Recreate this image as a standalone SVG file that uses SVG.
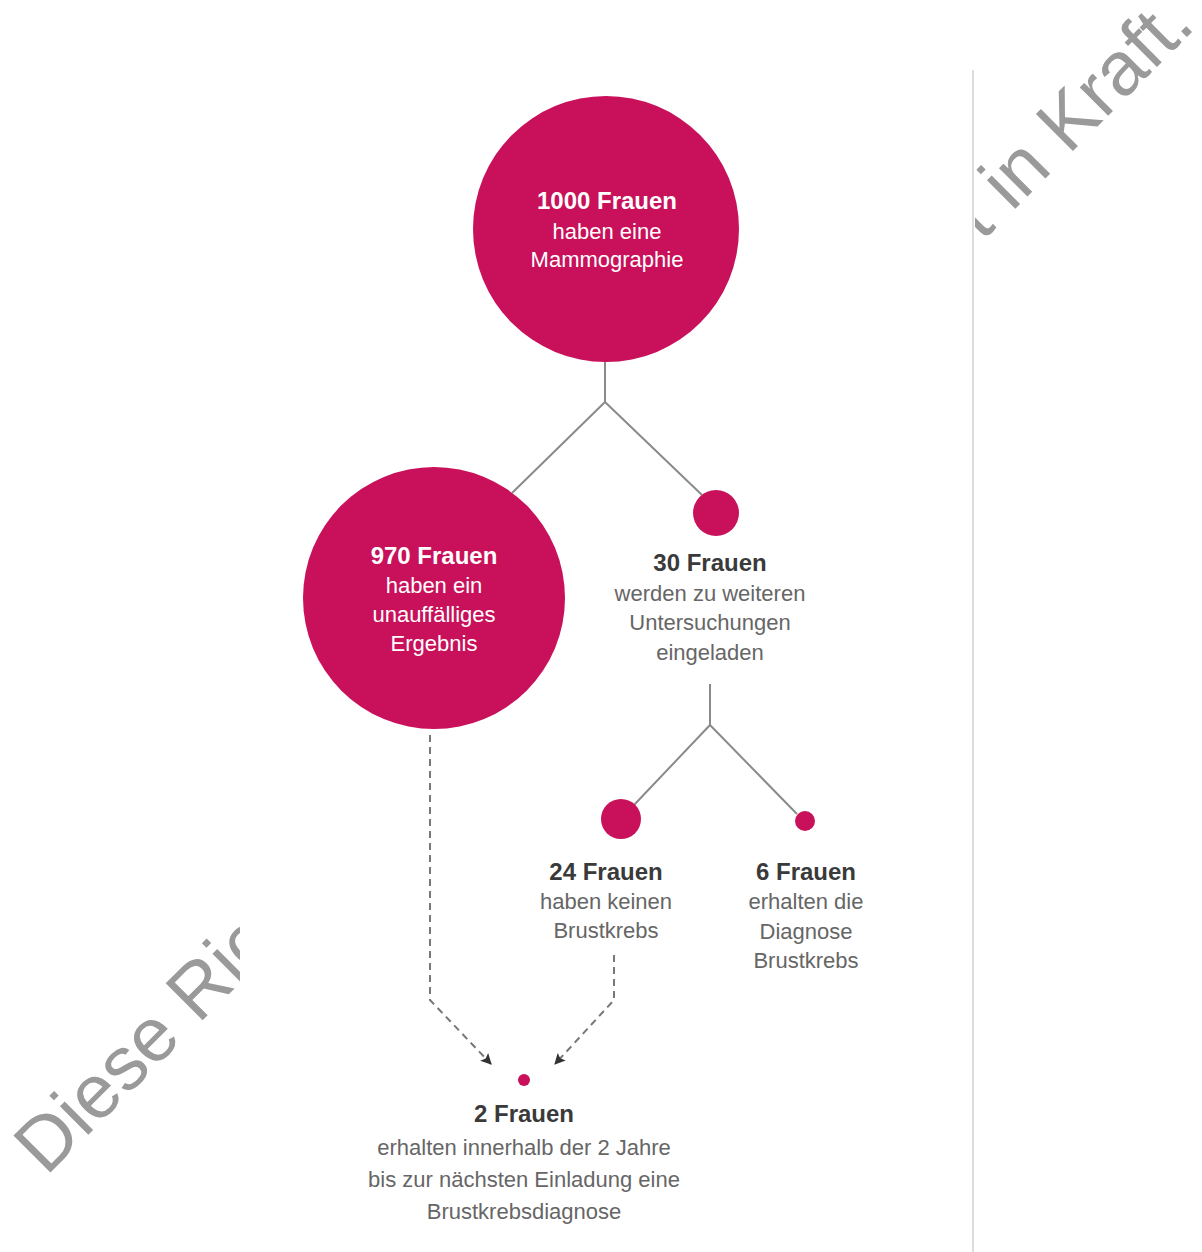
<svg xmlns="http://www.w3.org/2000/svg" width="1202" height="1252" viewBox="0 0 1202 1252">
<style>
.wm{font-family:"Liberation Sans",Arial,sans-serif;font-size:76px;fill:#9a9a9a}
.pink{fill:#c8115a}
.tw{font-family:"Liberation Sans",Arial,sans-serif;fill:#ffffff;text-anchor:middle}
.tg{font-family:"Liberation Sans",Arial,sans-serif;fill:#666666;text-anchor:middle}
.b{font-weight:bold;font-size:24px}
.r{font-size:22px}
.tg.b{fill:#3a3a3a}
.con{stroke:#8a8a8a;stroke-width:2;fill:none}
.dash{stroke:#777777;stroke-width:2;fill:none;stroke-dasharray:7 5}
</style>
<defs>
<clipPath id="clipL"><rect x="0" y="0" width="240" height="1252"/></clipPath>
<clipPath id="clipR"><rect x="975" y="0" width="227" height="1252"/></clipPath>
<marker id="arr" viewBox="0 0 10 10" refX="9" refY="5" markerWidth="13" markerHeight="11" orient="auto" markerUnits="userSpaceOnUse">
<path d="M0,0 L10,5 L0,10 L2,5 z" fill="#333333"/>
</marker>
</defs>
<rect x="0" y="0" width="1202" height="1252" fill="#ffffff"/>
<g id="watermark">
<g clip-path="url(#clipL)"><text class="wm" transform="translate(46,1177) rotate(-45)">Diese Ric</text></g>
<g clip-path="url(#clipR)"><text class="wm" text-anchor="end" transform="translate(1197,27) rotate(-45)">t in Kraft.</text></g>
</g>
<line x1="973" y1="70" x2="973" y2="1252" stroke="#dddddd" stroke-width="2"/>
<g id="connectors">
<path class="con" d="M605,362 L605,402 M605,402 L512,493 M605,402 L702,495"/>
<path class="con" d="M710,684 L710,725 M710,725 L634,805 M710,725 L797,814"/>
<path class="dash" d="M430,735 L430,1000 L491,1064" marker-end="url(#arr)"/>
<path class="dash" d="M614,955 L614,1000 L555,1064" marker-end="url(#arr)"/>
</g>
<g id="n1000">
<circle class="pink" cx="606" cy="229" r="133"/>
<text class="tw b" x="607" y="209">1000 Frauen</text>
<text class="tw r" x="607" y="239">haben eine</text>
<text class="tw r" x="607" y="267">Mammographie</text>
</g>
<g id="n970">
<circle class="pink" cx="434" cy="598" r="131"/>
<text class="tw b" x="434" y="564">970 Frauen</text>
<text class="tw r" x="434" y="593">haben ein</text>
<text class="tw r" x="434" y="622">unauffälliges</text>
<text class="tw r" x="434" y="651">Ergebnis</text>
</g>
<g id="n30">
<circle class="pink" cx="716" cy="513" r="23"/>
<text class="tg b" x="710" y="571">30 Frauen</text>
<text class="tg r" x="710" y="601">werden zu weiteren</text>
<text class="tg r" x="710" y="630">Untersuchungen</text>
<text class="tg r" x="710" y="660">eingeladen</text>
</g>
<g id="n24">
<circle class="pink" cx="621" cy="819" r="20"/>
<text class="tg b" x="606" y="880">24 Frauen</text>
<text class="tg r" x="606" y="909">haben keinen</text>
<text class="tg r" x="606" y="938">Brustkrebs</text>
</g>
<g id="n6">
<circle class="pink" cx="805" cy="821" r="10"/>
<text class="tg b" x="806" y="880">6 Frauen</text>
<text class="tg r" x="806" y="909">erhalten die</text>
<text class="tg r" x="806" y="939">Diagnose</text>
<text class="tg r" x="806" y="968">Brustkrebs</text>
</g>
<g id="n2">
<circle class="pink" cx="524" cy="1080" r="6"/>
<text class="tg b" x="524" y="1122">2 Frauen</text>
<text class="tg r" x="524" y="1155">erhalten innerhalb der 2 Jahre</text>
<text class="tg r" x="524" y="1187">bis zur nächsten Einladung eine</text>
<text class="tg r" x="524" y="1219">Brustkrebsdiagnose</text>
</g>
</svg>
